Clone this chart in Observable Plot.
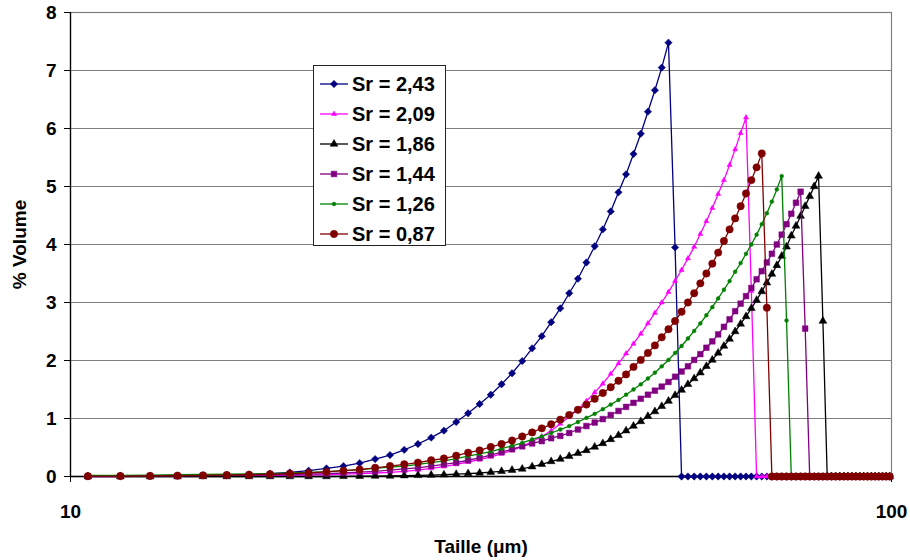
<!DOCTYPE html>
<html>
<head>
<meta charset="utf-8">
<script src="https://cdn.jsdelivr.net/npm/d3@7"></script>
<script src="https://cdn.jsdelivr.net/npm/@observablehq/plot@0.6"></script>
<style>
  html, body { margin: 0; padding: 0; background: #fff; }
  #wrap { position: relative; width: 910px; height: 560px; font-family: "Liberation Sans", Arial, sans-serif; }
  #legend { position: absolute; left: 313px; top: 65px; width: 131px; height: 179px; background: #fff; border: 1px solid #222; box-sizing: content-box; }
  .row { position: absolute; left: 0; height: 30px; width: 131px; }
  .row svg { position: absolute; left: 5px; top: 0; }
  .row span { position: absolute; left: 38px; top: 3px; font-weight: bold; font-size: 20px; line-height: 24px; white-space: nowrap; }
</style>
</head>
<body>
<div id="wrap"><div id="legend"></div></div>
<script>
// Particle sizes (µm)
const taille = [10.5, 11.5, 12.5, 13.5, 14.5, 15.5, 16.5, 17.5, 18.5, 19.5,
  20.5, 21.5, 22.5, 23.5, 24.5, 25.5, 26.5, 27.5, 28.5, 29.5,
  30.5, 31.5, 32.5, 33.5, 34.5, 35.5, 36.5, 37.5, 38.5, 39.5,
  40.5, 41.5, 42.5, 43.5, 44.5, 45.5, 46.5, 47.5, 48.5, 49.5,
  50.5, 51.5, 52.5, 53.5, 54.5, 55.5, 56.5, 57.5, 58.5, 59.5,
  60.5, 61.5, 62.5, 63.5, 64.5, 65.5, 66.5, 67.5, 68.5, 69.5,
  70.5, 71.5, 72.5, 73.5, 74.5, 75.5, 76.5, 77.5, 78.5, 79.5,
  80.5, 81.5, 82.5, 83.5, 84.5, 85.5, 86.5, 87.5, 88.5, 89.5,
  90.5, 91.5, 92.5, 93.5, 94.5, 95.5, 96.5, 97.5, 98.5, 99.5];

// % Volume per series
const sr243 = [0.005, 0.008, 0.01, 0.015, 0.02, 0.025, 0.035, 0.05, 0.07, 0.10,
  0.14, 0.18, 0.23, 0.30, 0.37, 0.46, 0.56, 0.67, 0.79, 0.94,
  1.09, 1.25, 1.41, 1.59, 1.78, 1.99, 2.21, 2.42, 2.66, 2.90,
  3.16, 3.41, 3.69, 3.97, 4.26, 4.57, 4.90, 5.21, 5.56, 5.91,
  6.29, 6.66, 7.05, 7.48, 3.95, 0, 0, 0, 0, 0,
  0, 0, 0, 0, 0, 0, 0, 0, 0, 0,
  0, 0, 0, 0, 0, 0, 0, 0, 0, 0,
  0, 0, 0, 0, 0, 0, 0, 0, 0, 0,
  0, 0, 0, 0, 0, 0, 0, 0, 0, 0];

const sr209 = [0, 0, 0.005, 0.005, 0.005, 0.01, 0.01, 0.015, 0.02, 0.025,
  0.03, 0.04, 0.05, 0.06, 0.07, 0.09, 0.11, 0.14, 0.17, 0.21,
  0.25, 0.29, 0.34, 0.39, 0.45, 0.52, 0.60, 0.69, 0.79, 0.91,
  1.03, 1.16, 1.30, 1.45, 1.60, 1.77, 1.95, 2.12, 2.29, 2.46,
  2.64, 2.82, 3.00, 3.18, 3.37, 3.56, 3.76, 3.96, 4.18, 4.40,
  4.63, 4.87, 5.11, 5.37, 5.64, 5.92, 6.19, 3.20, 0, 0,
  0, 0, 0, 0, 0, 0, 0, 0, 0, 0,
  0, 0, 0, 0, 0, 0, 0, 0, 0, 0,
  0, 0, 0, 0, 0, 0, 0, 0, 0, 0];

const sr186 = [0, 0, 0, 0, 0, 0, 0, 0, 0, 0,
  0, 0.003, 0.005, 0.008, 0.01, 0.015, 0.02, 0.025, 0.03, 0.04,
  0.05, 0.06, 0.075, 0.09, 0.11, 0.13, 0.17, 0.21, 0.26, 0.30,
  0.35, 0.40, 0.45, 0.51, 0.57, 0.64, 0.71, 0.79, 0.87, 0.95,
  1.04, 1.12, 1.21, 1.30, 1.40, 1.49, 1.59, 1.69, 1.79, 1.90,
  2.01, 2.13, 2.25, 2.37, 2.50, 2.63, 2.76, 2.90, 3.04, 3.19,
  3.34, 3.49, 3.64, 3.80, 3.96, 4.15, 4.32, 4.49, 4.66, 4.83,
  5.00, 5.18, 2.68, 0, 0, 0, 0, 0, 0, 0,
  0, 0, 0, 0, 0, 0, 0, 0, 0, 0];

const sr144 = [0.005, 0.005, 0.01, 0.01, 0.015, 0.02, 0.025, 0.03, 0.035, 0.04,
  0.05, 0.06, 0.075, 0.09, 0.11, 0.13, 0.15, 0.18, 0.21, 0.24,
  0.28, 0.32, 0.37, 0.42, 0.47, 0.52, 0.57, 0.61, 0.66, 0.70,
  0.75, 0.81, 0.87, 0.93, 0.99, 1.06, 1.13, 1.20, 1.27, 1.34,
  1.41, 1.48, 1.55, 1.63, 1.72, 1.81, 1.90, 2.01, 2.11, 2.22,
  2.33, 2.45, 2.58, 2.71, 2.85, 2.98, 3.11, 3.25, 3.40, 3.54,
  3.69, 3.84, 4.00, 4.17, 4.35, 4.53, 4.72, 4.91, 2.55, 0,
  0, 0, 0, 0, 0, 0, 0, 0, 0, 0,
  0, 0, 0, 0, 0, 0, 0, 0, 0, 0];

const sr126 = [0.02, 0.02, 0.025, 0.03, 0.035, 0.04, 0.045, 0.05, 0.06, 0.07,
  0.085, 0.10, 0.12, 0.14, 0.16, 0.18, 0.21, 0.24, 0.27, 0.31,
  0.35, 0.39, 0.43, 0.48, 0.53, 0.58, 0.64, 0.69, 0.75, 0.81,
  0.87, 0.94, 1.01, 1.08, 1.16, 1.24, 1.32, 1.41, 1.50, 1.59,
  1.69, 1.79, 1.90, 2.01, 2.13, 2.25, 2.38, 2.51, 2.64, 2.78,
  2.92, 3.07, 3.22, 3.37, 3.53, 3.68, 3.84, 4.00, 4.17, 4.35,
  4.54, 4.74, 4.95, 5.18, 2.69, 0, 0, 0, 0, 0,
  0, 0, 0, 0, 0, 0, 0, 0, 0, 0,
  0, 0, 0, 0, 0, 0, 0, 0, 0, 0];

const sr087 = [0.005, 0.008, 0.01, 0.015, 0.02, 0.025, 0.03, 0.04, 0.05, 0.06,
  0.08, 0.10, 0.12, 0.15, 0.18, 0.21, 0.24, 0.28, 0.31, 0.36,
  0.41, 0.45, 0.51, 0.56, 0.62, 0.69, 0.76, 0.83, 0.90, 0.98,
  1.06, 1.15, 1.24, 1.34, 1.44, 1.54, 1.65, 1.76, 1.89, 2.01,
  2.13, 2.26, 2.40, 2.54, 2.68, 2.84, 3.00, 3.16, 3.33, 3.50,
  3.67, 3.86, 4.06, 4.26, 4.45, 4.66, 4.88, 5.11, 5.33, 5.57,
  2.91, 0, 0, 0, 0, 0, 0, 0, 0, 0,
  0, 0, 0, 0, 0, 0, 0, 0, 0, 0,
  0, 0, 0, 0, 0, 0, 0, 0, 0, 0];

const seriesNames = ["Sr = 2,43", "Sr = 2,09", "Sr = 1,86", "Sr = 1,44", "Sr = 1,26", "Sr = 0,87"];
const yTicks = [0, 1, 2, 3, 4, 5, 6, 7, 8];
const xTicks = [10, 100];

const styles = [
  {values: sr243, color: "#000080", symbol: "diamond2", d3sym: d3.symbolDiamond2, r: 3.3},
  {values: sr209, color: "#FF00FF", symbol: "triangle", d3sym: d3.symbolTriangle, r: 1.9},
  {values: sr186, color: "#000000", symbol: "triangle", d3sym: d3.symbolTriangle, r: 2.9},
  {values: sr144, color: "#800080", symbol: "square", d3sym: d3.symbolSquare, r: 3.2},
  {values: sr126, color: "#008000", symbol: "circle", d3sym: d3.symbolCircle, r: 1.9},
  {values: sr087, color: "#800000", symbol: "circle", d3sym: d3.symbolCircle, r: 3.7}
];

const marks = [
  Plot.gridY(yTicks, {stroke: "#808080", strokeOpacity: 1, strokeWidth: 1.2}),
  Plot.frame({stroke: "#808080", strokeWidth: 1.2}),
  Plot.ruleX([10], {stroke: "#000", strokeWidth: 1.3}),
  Plot.ruleY([0], {stroke: "#000", strokeWidth: 1.3}),
  Plot.axisY(yTicks, {tickSize: 6, tickPadding: 8, tickFormat: d => String(d), label: "% Volume", labelAnchor: "center", labelOffset: 58, labelArrow: "none", fontSize: 19, fontWeight: "bold"}),
  Plot.axisX(xTicks, {tickSize: 6, tickPadding: 22, tickFormat: d => String(d), label: "Taille (μm)", labelAnchor: "center", labelOffset: 76, labelArrow: "none", fontSize: 19, fontWeight: "bold"})
];

styles.forEach((s, k) => {
  const rows = taille.map((x, i) => ({x, y: s.values[i], serie: seriesNames[k]}));
  marks.push(Plot.line(rows, {x: "x", y: "y", stroke: s.color, strokeWidth: 1.3}));
  marks.push(Plot.dot(rows, {x: "x", y: "y", symbol: s.symbol, r: s.r, fill: s.color, stroke: s.color, strokeWidth: 0.5}));
});

const chart = Plot.plot({
  width: 910,
  height: 560,
  marginLeft: 70,
  marginRight: 19,
  marginTop: 12,
  marginBottom: 84,
  style: {fontFamily: "'Liberation Sans', Arial, sans-serif", fontWeight: "bold", fontSize: "19px", background: "white", color: "black", overflow: "visible"},
  x: {type: "log", domain: [10, 100]},
  y: {domain: [0, 8]},
  marks
});
const wrap = document.getElementById("wrap");
wrap.insertBefore(chart, wrap.firstChild);

// Legend
const legend = document.getElementById("legend");
styles.forEach((s, k) => {
  const row = document.createElement("div");
  row.className = "row";
  row.style.top = (3 + k * 30) + "px";
  const svg = d3.create("svg").attr("width", 30).attr("height", 30);
  svg.append("line").attr("x1", 1).attr("x2", 29).attr("y1", 15).attr("y2", 15).attr("stroke", s.color).attr("stroke-width", 1.3);
  svg.append("path").attr("transform", "translate(15,15)")
    .attr("d", d3.symbol(s.d3sym, Math.PI * s.r * s.r)())
    .attr("fill", s.color).attr("stroke", s.color).attr("stroke-width", 0.5);
  row.appendChild(svg.node());
  const sp = document.createElement("span");
  sp.textContent = seriesNames[k];
  row.appendChild(sp);
  legend.appendChild(row);
});
</script>
</body>
</html>
